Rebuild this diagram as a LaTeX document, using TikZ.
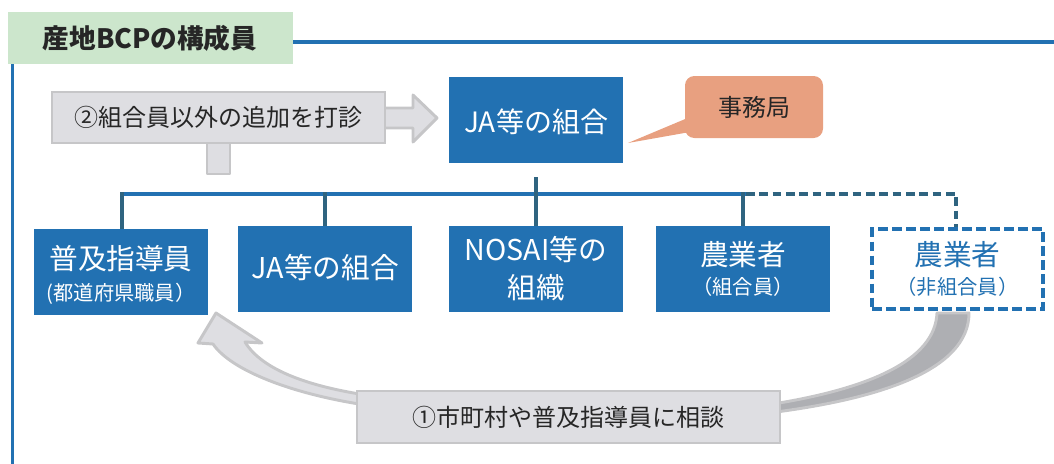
\documentclass[tikz,border=0pt]{standalone}
\usepackage{fontspec}
\setmainfont{Noto Sans CJK JP}
\definecolor{jblue}{HTML}{2271B2}
\definecolor{jline}{HTML}{2F6480}
\definecolor{tgreen}{HTML}{CCE6CC}
\definecolor{gfill}{HTML}{DEDEE2}
\definecolor{gedge}{HTML}{C6C6C8}
\definecolor{gdark}{HTML}{AEAFB3}
\definecolor{salmon}{HTML}{E8A080}
\definecolor{txt}{HTML}{262626}
\begin{document}
\begin{tikzpicture}[x=0.75pt,y=-0.75pt,
  bluebox/.style={fill=jblue, minimum width=130.5pt, minimum height=64.5pt, inner sep=0pt},
  dashbox/.style={fill=white, draw=jblue, line width=3pt, dash pattern=on 7pt off 3.5pt, minimum width=128pt, minimum height=60pt, inner sep=0pt},
  bigtxt/.style={inner sep=0pt, font=\fontsize{21.5pt}{26pt}\selectfont},
  subtxt/.style={inner sep=0pt, font=\fontsize{15.2pt}{18pt}\selectfont},
  grayshape/.style={fill=gfill, draw=gedge, line width=2.2pt, line join=round},
  graybox/.style={fill=gfill, draw=gedge, line width=2.2pt, inner sep=0pt, text=txt, font=\fontsize{18pt}{22pt}\selectfont},
  hline/.style={draw=jblue, line width=3pt},
  vline/.style={draw=jline, line width=3pt},
  dline/.style={draw=jline, line width=3pt, dash pattern=on 6.5pt off 3.5pt},
  frameline/.style={draw=jblue, line width=2.4pt}
]
\useasboundingbox (0,0) rectangle (1054,464);

% frame
\node[fill=tgreen, minimum width=213.75pt, minimum height=39pt, inner sep=0pt] (title) at (150.5,38) {};
\node[inner sep=0pt, text=txt, font=\fontsize{20pt}{24pt}\selectfont\bfseries] (titletext) at (150,38) {産地BCPの構成員};
\coordinate (frR) at (1054,42);
\coordinate (frB) at (12.5,464);
\draw[frameline] (title.east |- frR) -- (frR);
\draw[frameline] (title.south -| frB) -- (frB);

% top JA box and callout
\node[bluebox] (ja) at (536,120) {};
\node[bigtxt, text=white, font=\fontsize{21pt}{26pt}\selectfont] (jatext) at (536,122) {JA等の組合};
\coordinate (ptip) at (628,143);
\fill[salmon] (ptip) -- (690,117) -- (690,132) -- cycle;
\node[fill=salmon, rounded corners=7pt, minimum width=103.5pt, minimum height=46.5pt, inner sep=0pt, text=txt, font=\fontsize{18pt}{22pt}\selectfont] (jimu) at (754,107) {事務局};

% gray box 2 with arrow and stub
\draw[grayshape] (380,108) -- (413,108) -- (413,95) -- (437,118) -- (413,142) -- (413,128) -- (380,128) -- cycle;
\draw[grayshape] (207,138) rectangle (230,174);
\node[graybox, minimum width=249.75pt, minimum height=38.25pt] (ask) at (218.5,117.5) {②組合員以外の追加を打診};

% second row boxes
\node[bluebox] (b1) at (121,272) {};
\node[bigtxt, text=white] (b1a) at (121,259) {普及指導員};
\node[subtxt, text=white] (b1b) at (121,294) {(都道府県職員）};
\node[bluebox] (b2) at (325,269) {};
\node[bigtxt, text=white] (b2a) at (325,268) {JA等の組合};
\node[bluebox] (b3) at (536,269) {};
\node[bigtxt, text=white] (b3a) at (536,250) {NOSAI等の};
\node[bigtxt, text=white] (b3b) at (536,288) {組織};
\node[bluebox] (b4) at (743,269) {};
\node[bigtxt, text=white] (b4a) at (743,255) {農業者};
\node[subtxt, text=white] (b4b) at (743,287) {（組合員）};
\node[dashbox] (b5) at (957.5,269) {};
\node[bigtxt, text=jblue] (b5a) at (957.5,255) {農業者};
\node[subtxt, text=jblue] (b5b) at (957.5,287) {（非組合員）};

% tree connectors
\coordinate (busL) at (120,194);
\coordinate (busR) at (746,194);
\coordinate (busD) at (956,194);
\coordinate (jastem) at (536,177);
\draw[dline] (busR) -- (busD) -- (busD |- b5.north);
\draw[hline] (busL) -- (busR);
\coordinate (busT) at (0,192);
\draw[vline] (jastem) -- (jastem |- busL);
\draw[vline] (b1.north -| 122,0) -- (busT -| 122,0);
\draw[vline] (b2.north) -- (busT -| b2.north);
\draw[vline] (b3.north) -- (busT -| b3.north);
\draw[vline] (b4.north) -- (busT -| b4.north);

% curved arrow (1)
\coordinate (tip) at (216,313);
\draw[grayshape] (tip) -- (262,343) -- (245,342)
  .. controls (262,370) and (310,388) .. (380,397) -- (380,407)
  .. controls (300,397) and (232,372) .. (213,344) -- (198,343) -- cycle;
\draw[fill=gdark, draw=gedge, line width=2.2pt, line join=round] (937,313)
  .. controls (935,360) and (870,390) .. (760,406) -- (760,414)
  .. controls (880,400) and (969,370) .. (969,313) -- cycle;
\node[graybox, minimum width=317.25pt, minimum height=39pt] (consult) at (568.5,417) {①市町村や普及指導員に相談};
\end{tikzpicture}
\end{document}
